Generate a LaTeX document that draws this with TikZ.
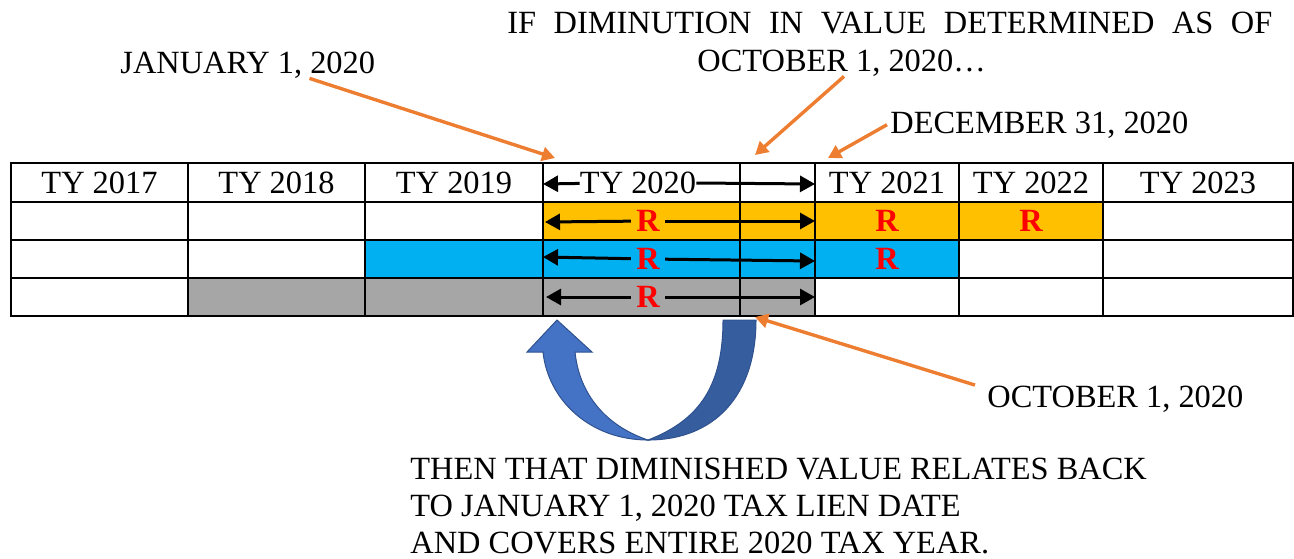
\documentclass[tikz,border=0pt]{standalone}
\usepackage{fontspec}
\setmainfont{Liberation Serif}
\usepackage{xcolor}
\usepackage{tikz}
\usetikzlibrary{arrows.meta}

\definecolor{cellorange}{HTML}{FFC000}
\definecolor{cellblue}{HTML}{00B0F0}
\definecolor{cellgray}{HTML}{A6A6A6}
\definecolor{pointer}{HTML}{ED7D31}
\definecolor{turnlight}{HTML}{4472C4}
\definecolor{turndark}{HTML}{365E9F}
\definecolor{turnedge}{HTML}{2F528F}

\begin{document}
\begin{tikzpicture}[x=0.5pt, y=-0.5pt,
    every node/.style={font=\fontsize{16.2}{18.5}\selectfont},
    yr/.style={inner sep=0pt},
    rmark/.style={font=\fontsize{16.2}{18.5}\selectfont\bfseries, text=red, inner sep=2.5pt},
    txt/.style={anchor=base west, inner sep=0pt},
    blk/.style={line width=1.5pt, -{Triangle[length=7.5pt,width=8pt]}},
    ptr/.style={pointer, line width=1.7pt, -{Triangle[length=6.5pt,width=7pt]}}]
    \useasboundingbox (0,0) rectangle (1294,558);
    % shaded cells
    \fill[cellorange] (543,202) rectangle (1103,240);
    \fill[cellblue] (365,240) rectangle (959,278);
    \fill[cellgray] (188,278) rectangle (815,316);
    % grid
    \foreach \y in {163,202,240,278,316}{\draw[line width=1.1pt, line cap=rect] (11,\y) -- (1293,\y);}
    \foreach \x in {11,188,365,543,740,815,959,1103,1293}{\draw[line width=1.1pt, line cap=rect] (\x,163) -- (\x,316);}
    % year headings
    \foreach \n/\x in {2017/99.5,2018/276.5,2019/454,2021/887,2022/1031,2023/1198}
        {\node (ty\n) at (\x,182.5) {TY \n};}
    \node[yr] (ty2020) at (638,182.5) {TY 2020};
    % R marks
    \node[rmark] (rOrgA) at (648,221) {R};
    \node[rmark] (rOrgB) at (887,221) {R};
    \node[rmark] (rOrgC) at (1031,221) {R};
    \node[rmark] (rBluA) at (648,259) {R};
    \node[rmark] (rBluB) at (887,259) {R};
    \node[rmark] (rGryA) at (648,297) {R};
    % edges of the 2020 year
    \coordinate (wA) at (543,184); \coordinate (eA) at (815,184);
    \coordinate (wB) at (545,222); \coordinate (eB) at (815,221);
    \coordinate (wC) at (543,257); \coordinate (eC) at (815,261);
    \coordinate (wD) at (546,297); \coordinate (eD) at (815,297);
    \draw[blk] (ty2020) -- (wA);
    \draw[blk] (ty2020) -- (eA);
    \draw[blk] (rOrgA) -- (wB);
    \draw[blk] (rOrgA) -- (eB);
    \draw[blk] (rBluA) -- (wC);
    \draw[blk] (rBluA) -- (eC);
    \draw[blk] (rGryA) -- (wD);
    \draw[blk] (rGryA) -- (eD);
    % dates
    \node[txt] (lblTop) at (507,33) {\makebox[382.5pt][s]{IF DIMINUTION IN VALUE DETERMINED AS OF}};
    \node[txt] (lblOct) at (697,71) {OCTOBER 1, 2020…};
    \node[txt] (lblJan) at (120,73) {JANUARY 1, 2020};
    \node[txt] (lblDec) at (890,133) {DECEMBER 31, 2020};
    \node[txt] (lblOctB) at (987,407) {OCTOBER 1, 2020};
    \coordinate (janLien) at (555,158);
    \coordinate (octTop) at (755,155);
    \coordinate (decEnd) at (828,158);
    \coordinate (octBot) at (755,317);
    \draw[ptr] ([xshift=-33pt]lblJan.south east) -- (janLien);
    \draw[ptr] ([xshift=73.5pt]lblOct.south west) -- (octTop);
    \draw[ptr] ([xshift=-1.5pt]lblDec.west) -- (decEnd);
    \draw[ptr] ([xshift=-6pt]lblOctB.north west) -- (octBot);
    % turn-back arrow
    \filldraw[turndark, draw=turnedge, line width=0.5pt] (723,320) -- (756,320)
        .. controls (756,395) and (715,440) .. (648,440)
        .. controls (700,420) and (723,385) .. (723,320) -- cycle;
    \filldraw[turnlight, draw=turnedge, line width=0.5pt] (543,352)
        .. controls (548,400) and (590,440) .. (648,440)
        .. controls (612,428) and (580,400) .. (575,352)
        -- (592,352) -- (557,320) -- (527,352) -- cycle;
    % note
    \node[txt] (note1) at (410,479) {THEN THAT DIMINISHED VALUE RELATES BACK};
    \node[txt] (note2) at (410,516) {TO JANUARY 1, 2020 TAX LIEN DATE};
    \node[txt] (note3) at (410,553) {AND COVERS ENTIRE 2020 TAX YEAR.};
\end{tikzpicture}
\end{document}
